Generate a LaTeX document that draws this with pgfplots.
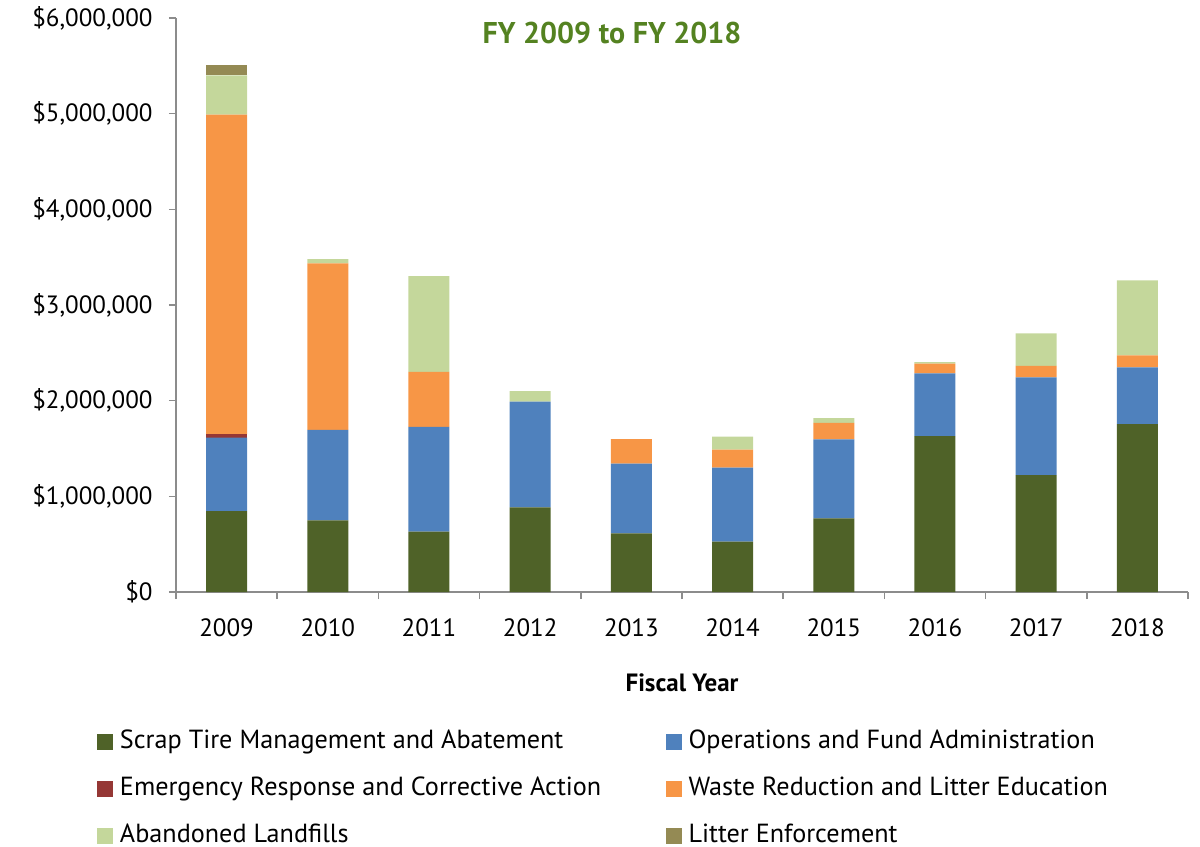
\documentclass[border=0pt]{standalone}
\usepackage{pgfplots}
\pgfplotsset{compat=1.18}
\usepackage{fontspec}
\setmainfont{PT Sans}
\definecolor{cScrap}{RGB}{79,98,40}
\definecolor{cOps}{RGB}{79,129,189}
\definecolor{cEmerg}{RGB}{149,55,53}
\definecolor{cWaste}{RGB}{247,150,70}
\definecolor{cAband}{RGB}{196,215,155}
\definecolor{cLitter}{RGB}{148,138,84}
\definecolor{cTitle}{RGB}{84,130,33}
\definecolor{cAxis}{RGB}{140,140,140}
\begin{document}
\begin{tikzpicture}[font=\fontsize{12.5bp}{15bp}\selectfont]
\path[use as bounding box] (-88bp,-127.5bp) rectangle (512bp,296bp);
\begin{axis}[
  scale only axis, width=506bp, height=287bp,
  anchor=south west, at={(0,0)},
  ybar stacked, bar width=20.5bp,
  xmin=-0.5, xmax=9.5, ymin=0, ymax=6,
  axis lines*=left,
  axis line style={draw=cAxis, line width=0.75bp},
  /pgf/number format/assume math mode=true,
  xtick={0,1,2,3,4,5,6,7,8,9},
  xticklabels={2009,2010,2011,2012,2013,2014,2015,2016,2017,2018},
  major x tick style={draw=none},
  minor xtick={-0.5,0.5,1.5,2.5,3.5,4.5,5.5,6.5,7.5,8.5,9.5},
  minor x tick style={draw=cAxis, line width=0.75bp},
  minor tick length=3.5bp,
  major tick length=3.5bp,
  tick align=outside,
  ytick={0,1,2,3,4,5,6},
  yticklabels={{\$0},{\$1,000,000},{\$2,000,000},{\$3,000,000},{\$4,000,000},{\$5,000,000},{\$6,000,000}},
  major y tick style={draw=cAxis, line width=0.75bp},
  xticklabel style={inner sep=0pt, anchor=north, yshift=-9.5bp},
  yticklabel style={inner sep=0pt, anchor=east, xshift=-8bp},
  legend columns=2,
  legend cell align=left,
  legend style={draw=none, fill=none, at={(axis description cs:-0.0781,-0.2404)}, anchor=north west,
    inner sep=0pt, row sep=12.1bp, font=\fontsize{13.1bp}{15bp}\selectfont,
    nodes={inner sep=0pt, text height=9bp, text depth=2.5bp},
    /tikz/every odd column/.append style={column sep=3.5bp}},
  legend image code/.code={\fill[#1] (0bp,-3.9bp) rectangle (7.8bp,3.9bp);},
  every axis plot/.append style={draw=none},
]
\addplot[fill=cScrap] coordinates {(0,0.846) (1,0.749) (2,0.630) (3,0.885) (4,0.613) (5,0.526) (6,0.770) (7,1.630) (8,1.223) (9,1.755)};
\addlegendentry{\makebox[273bp][l]{Scrap Tire Management and Abatement}}
\addplot[fill=cOps] coordinates {(0,0.767) (1,0.947) (2,1.097) (3,1.104) (4,0.728) (5,0.773) (6,0.826) (7,0.655) (8,1.020) (9,0.593)};
\addlegendentry{Operations and Fund Administration}
\addplot[fill=cEmerg] coordinates {(0,0.037) (1,0) (2,0) (3,0) (4,0) (5,0) (6,0) (7,0) (8,0) (9,0)};
\addlegendentry{\makebox[273bp][l]{Emergency Response and Corrective Action}}
\addplot[fill=cWaste] coordinates {(0,3.34) (1,1.739) (2,0.575) (3,0) (4,0.258) (5,0.188) (6,0.173) (7,0.101) (8,0.122) (9,0.125)};
\addlegendentry{Waste Reduction and Litter Education}
\addplot[fill=cAband] coordinates {(0,0.41) (1,0.045) (2,1.0) (3,0.11) (4,0) (5,0.136) (6,0.049) (7,0.017) (8,0.338) (9,0.784)};
\addlegendentry{\makebox[273bp][l]{Abandoned Landfills}}
\addplot[fill=cLitter] coordinates {(0,0.11) (1,0) (2,0) (3,0) (4,0) (5,0) (6,0) (7,0) (8,0) (9,0)};
\addlegendentry{Litter Enforcement}
\end{axis}
\node[font=\fontsize{15bp}{18bp}\selectfont\bfseries, text=cTitle] at (218bp,279.5bp) {FY 2009 to FY 2018};
\node[font=\fontsize{12.5bp}{15bp}\selectfont\bfseries] at (253bp,-45.5bp) {Fiscal Year};
\end{tikzpicture}
\end{document}
